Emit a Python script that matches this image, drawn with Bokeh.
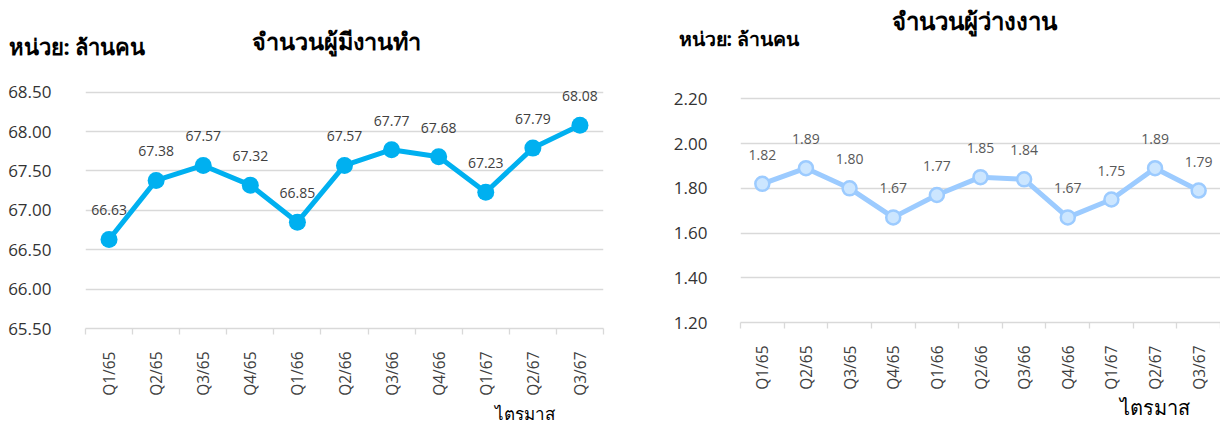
import math
from bokeh.plotting import figure
from bokeh.layouts import row, column
from bokeh.models import ColumnDataSource, Range1d, FixedTicker, Label, NumeralTickFormatter
from bokeh.core.properties import value
from bokeh.embed import file_html
from bokeh.resources import INLINE

# ---- data ----
quarters = ["Q1/65", "Q2/65", "Q3/65", "Q4/65", "Q1/66", "Q2/66", "Q3/66", "Q4/66", "Q1/67", "Q2/67", "Q3/67"]
employed = [66.63, 67.38, 67.57, 67.32, 66.85, 67.57, 67.77, 67.68, 67.23, 67.79, 68.08]
unemployed = [1.82, 1.89, 1.80, 1.67, 1.77, 1.85, 1.84, 1.67, 1.75, 1.89, 1.79]
emp_ticks = [65.5, 66.0, 66.5, 67.0, 67.5, 68.0, 68.5]
unemp_ticks = [1.2, 1.4, 1.6, 1.8, 2.0, 2.2]

title_left = "จำนวนผู้มีงานทำ"
title_right = "จำนวนผู้ว่างงาน"
unit_text = "หน่วย: ล้านคน"
xaxis_title = "ไตรมาส"

NUM_FONT = "Open Sans"
THAI_FONT = "Noto Sans"
GRID = "#D9D9D9"

xpos = [i + 0.5 for i in range(len(quarters))]
bounds = list(range(len(quarters) + 1))


def make_chart(values, yticks, ytop, width, height, b_left, b_right, b_top, b_bottom, standoff,
               line_color, fill_color, outline, msize, label_color):
    p = figure(width=width, height=height, output_backend="svg", toolbar_location=None,
               title=None, min_border_left=b_left, min_border_right=b_right,
               min_border_top=b_top, min_border_bottom=b_bottom,
               x_range=Range1d(0, len(quarters)), y_range=Range1d(yticks[0], ytop))
    p.frame_align = False
    p.outline_line_color = None
    p.xgrid.visible = False
    p.ygrid.grid_line_color = GRID
    p.ygrid.grid_line_width = 1.3

    ya = p.yaxis[0]
    ya.ticker = FixedTicker(ticks=yticks)
    ya.formatter = NumeralTickFormatter(format="0.00")
    ya.axis_line_color = None
    ya.major_tick_out = 0
    ya.major_tick_in = 0
    ya.minor_tick_out = 0
    ya.minor_tick_in = 0
    ya.major_label_standoff = standoff
    ya.major_label_text_font = NUM_FONT
    ya.major_label_text_font_size = "17px"
    ya.major_label_text_color = "#333333"

    xa = p.xaxis[0]
    xa.ticker = FixedTicker(ticks=xpos, minor_ticks=bounds)
    xa.major_label_overrides = {x: q for x, q in zip(xpos, quarters)}
    xa.major_label_orientation = math.pi / 2
    xa.axis_line_color = GRID
    xa.axis_line_width = 1.3
    xa.major_tick_out = 0
    xa.major_tick_in = 0
    xa.minor_tick_in = 0
    xa.minor_tick_out = 6
    xa.minor_tick_line_color = GRID
    xa.minor_tick_line_width = 1.3
    xa.major_label_standoff = 17
    xa.major_label_text_font = NUM_FONT
    xa.major_label_text_font_size = "15.5px"
    xa.major_label_text_color = "#404040"

    src = ColumnDataSource(dict(x=xpos, y=values, q=quarters,
                                lab=["%.2f" % v for v in values]))
    p.line("x", "y", source=src, line_color=line_color, line_width=5)
    if outline:
        p.scatter("x", "y", source=src, size=msize, fill_color=fill_color,
                  line_color=line_color, line_width=2.5)
    else:
        p.scatter("x", "y", source=src, size=msize, fill_color=fill_color, line_color=None)
    p.text("x", "y", text="lab", source=src, text_align="center", text_baseline="alphabetic",
           y_offset=-29, text_font=value(NUM_FONT), text_font_size="14px",
           text_color=label_color)
    return p


def make_band(width, height):
    h = figure(width=width, height=height, output_backend="svg", toolbar_location=None,
               title=None, min_border=0, min_border_left=0, min_border_right=0,
               min_border_top=0, min_border_bottom=0, x_axis_type=None, y_axis_type=None,
               x_range=Range1d(0, width), y_range=Range1d(0, height))
    h.frame_align = False
    h.outline_line_color = None
    h.grid.visible = False
    return h


def add_label(p, text, x, y, size, bold=False, align="left", baseline="middle"):
    p.add_layout(Label(x=x, y=y, x_units="screen", y_units="screen", text=text,
                       text_font=THAI_FONT, text_font_size=size,
                       text_font_style="bold" if bold else "normal",
                       text_align=align, text_baseline=baseline, text_color="#000000"))


# ---- left column: header 62, chart 336, footer 27 ----
h1 = make_band(647, 62)
add_label(h1, title_left, 336, 21.5, "23.5px", bold=True, align="center")
add_label(h1, unit_text, 8, 16.5, "22px", bold=True)
p1 = make_chart(employed, emp_ticks, 68.75, 647, 336, 85, 44, 10, 70, 34,
                "#00B0F0", "#00B0F0", False, 17, "#404040")
f1 = make_band(647, 27)
add_label(f1, xaxis_title, 494, 12, "17px", baseline="alphabetic")

# ---- right column: header 58, chart 334, footer 30 ----
h2 = make_band(573, 58)
add_label(h2, title_right, 326.5, 38.5, "24px", bold=True, align="center")
add_label(h2, unit_text, 31, 20, "19.5px", bold=True)
p2 = make_chart(unemployed, unemp_ticks, 2.3, 573, 334, 93, 0, 18, 67, 33,
                "#9CCBFF", "#CCE6FF", True, 14, "#595959")
f2 = make_band(573, 30)
add_label(f2, xaxis_title, 472, 15, "20px", baseline="alphabetic")

layout = row(column(h1, p1, f1, spacing=0), column(h2, p2, f2, spacing=0), spacing=0)
open("out.html", "w").write(file_html(layout, INLINE))
